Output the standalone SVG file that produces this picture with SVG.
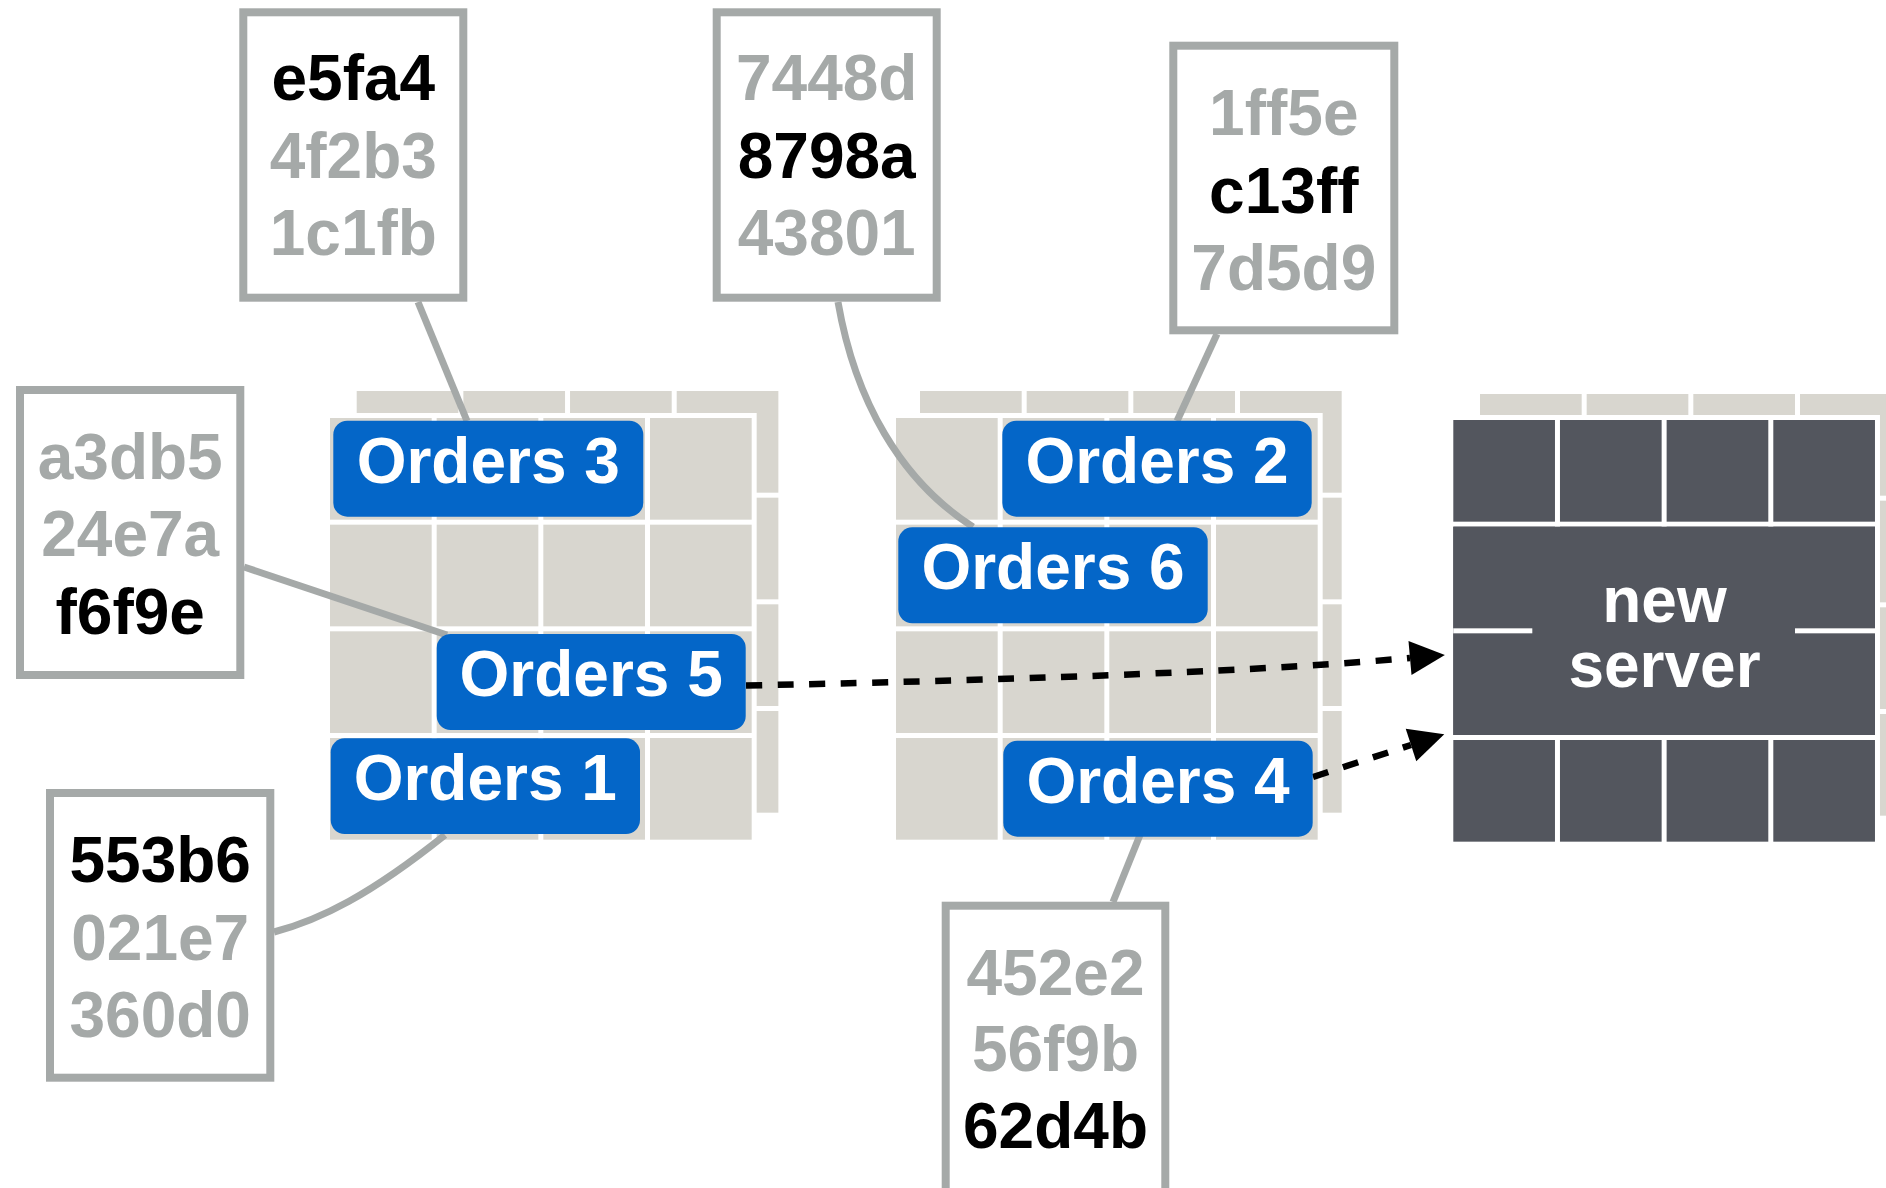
<svg xmlns="http://www.w3.org/2000/svg" xmlns:xlink="http://www.w3.org/1999/xlink" width="1886" height="1188" viewBox="0 0 1886 1188">
<style>
.hbox{fill:#fff;stroke:#a5a9a8;stroke-width:8}
.ht{font-family:"Liberation Sans",Arial,sans-serif;font-weight:bold;font-size:64px;text-anchor:middle;fill:#a5a9a8}
.hk{fill:#000}
.ord{fill:#0466c8}
.ot{font-family:"Liberation Sans",Arial,sans-serif;font-weight:bold;font-size:64px;text-anchor:middle;fill:#fff}
.conn{fill:none;stroke:#a5a9a8;stroke-width:7}
.dash{fill:none;stroke:#000;stroke-width:6.5;stroke-dasharray:16 15.5}
</style>
<defs>
<g id="cells">
<rect x="0" y="0" width="101.67" height="101.67"/><rect x="106.67" y="0" width="101.67" height="101.67"/><rect x="213.33" y="0" width="101.67" height="101.67"/><rect x="320" y="0" width="101.67" height="101.67"/>
<rect x="0" y="106.67" width="101.67" height="101.67"/><rect x="106.67" y="106.67" width="101.67" height="101.67"/><rect x="213.33" y="106.67" width="101.67" height="101.67"/><rect x="320" y="106.67" width="101.67" height="101.67"/>
<rect x="0" y="213.33" width="101.67" height="101.67"/><rect x="106.67" y="213.33" width="101.67" height="101.67"/><rect x="213.33" y="213.33" width="101.67" height="101.67"/><rect x="320" y="213.33" width="101.67" height="101.67"/>
<rect x="0" y="320" width="101.67" height="101.67"/><rect x="106.67" y="320" width="101.67" height="101.67"/><rect x="213.33" y="320" width="101.67" height="101.67"/><rect x="320" y="320" width="101.67" height="101.67"/>
</g>
<marker id="arr" markerUnits="userSpaceOnUse" markerWidth="36" markerHeight="34" refX="0" refY="17" orient="auto" overflow="visible">
<path d="M0,0 L35,17 L0,34 Z" fill="#000"/>
</marker>
</defs>
<rect width="1886" height="1188" fill="#fff"/>

<g id="server1">
<use xlink:href="#cells" href="#cells" x="356.7" y="391" fill="#d8d6cf"/>
<rect x="325" y="413" width="431.67" height="431.67" fill="#fff"/>
<use xlink:href="#cells" href="#cells" x="330" y="418" fill="#d8d6cf"/>
</g>
<g id="server2">
<use xlink:href="#cells" href="#cells" x="920" y="391" fill="#d8d6cf"/>
<rect x="891" y="413" width="431.67" height="431.67" fill="#fff"/>
<use xlink:href="#cells" href="#cells" x="896" y="418" fill="#d8d6cf"/>
</g>
<g id="server3">
<use xlink:href="#cells" href="#cells" x="1480" y="394" fill="#d8d6cf"/>
<rect x="1448.3" y="415" width="431.67" height="431.67" fill="#fff"/>
<use xlink:href="#cells" href="#cells" x="1453.3" y="420" fill="#53565e"/>
<rect x="1453.3" y="526.67" width="421.67" height="208.33" fill="#53565e"/>
<rect x="1453.3" y="628.33" width="79" height="5" fill="#fff"/>
<rect x="1795" y="628.33" width="80" height="5" fill="#fff"/>
<text class="ot" x="1664.5" y="622">new</text>
<text class="ot" x="1664.5" y="687">server</text>
</g>

<g id="connectors">
<path class="conn" d="M418,302 L467,421"/>
<path class="conn" d="M244,567 L447,635"/>
<path class="conn" d="M274,932 C320,920 370,895 445,835"/>
<path class="conn" d="M838,302 C855,400 900,480 973,527"/>
<path class="conn" d="M1217,334 L1177,421"/>
<path class="conn" d="M1140,835 L1113,902"/>
<path class="dash" d="M746,685.5 Q1209,676 1410,658" marker-end="url(#arr)"/>
<path class="dash" d="M1313,777 L1411,745" marker-end="url(#arr)"/>
</g>

<g id="orders3"><rect class="ord" x="333.3" y="420.7" width="310" height="96" rx="14"/><text class="ot" x="488.3" y="482.7">Orders 3</text></g>
<g id="orders5"><rect class="ord" x="436.7" y="634" width="309" height="96" rx="14"/><text class="ot" x="591.2" y="696">Orders 5</text></g>
<g id="orders1"><rect class="ord" x="330.7" y="738.3" width="309.3" height="95.7" rx="14"/><text class="ot" x="485.3" y="800">Orders 1</text></g>
<g id="orders2"><rect class="ord" x="1002.3" y="420.7" width="309.4" height="96" rx="14"/><text class="ot" x="1157" y="482.7">Orders 2</text></g>
<g id="orders6"><rect class="ord" x="898.3" y="527.3" width="309.4" height="96" rx="14"/><text class="ot" x="1053" y="589.3">Orders 6</text></g>
<g id="orders4"><rect class="ord" x="1003.3" y="740.7" width="309.4" height="96" rx="14"/><text class="ot" x="1158" y="802.7">Orders 4</text></g>

<g id="hash-e5fa4"><rect class="hbox" x="243.3" y="12.3" width="220" height="285.4"/>
<text class="ht hk" x="353.3" y="100">e5fa4</text><text class="ht" x="353.3" y="178">4f2b3</text><text class="ht" x="353.3" y="255">1c1fb</text></g>
<g id="hash-7448d"><rect class="hbox" x="716.7" y="12.3" width="220" height="285.4"/>
<text class="ht" x="826.7" y="100">7448d</text><text class="ht hk" x="826.7" y="178">8798a</text><text class="ht" x="826.7" y="255">43801</text></g>
<g id="hash-1ff5e"><rect class="hbox" x="1173.3" y="45.7" width="221" height="284.6"/>
<text class="ht" x="1283.8" y="135">1ff5e</text><text class="ht hk" x="1283.8" y="212.5">c13ff</text><text class="ht" x="1283.8" y="290">7d5d9</text></g>
<g id="hash-a3db5"><rect class="hbox" x="20" y="390" width="220.3" height="285"/>
<text class="ht" x="130.2" y="478.5">a3db5</text><text class="ht" x="130.2" y="556">24e7a</text><text class="ht hk" x="130.2" y="633.5">f6f9e</text></g>
<g id="hash-553b6"><rect class="hbox" x="50" y="793" width="220.3" height="284.7"/>
<text class="ht hk" x="160.2" y="881.5">553b6</text><text class="ht" x="160.2" y="959.5">021e7</text><text class="ht" x="160.2" y="1036.5">360d0</text></g>
<g id="hash-452e2"><rect class="hbox" x="945.7" y="905.7" width="219.6" height="300"/>
<text class="ht" x="1055.5" y="995">452e2</text><text class="ht" x="1055.5" y="1071">56f9b</text><text class="ht hk" x="1055.5" y="1148">62d4b</text></g>
</svg>
